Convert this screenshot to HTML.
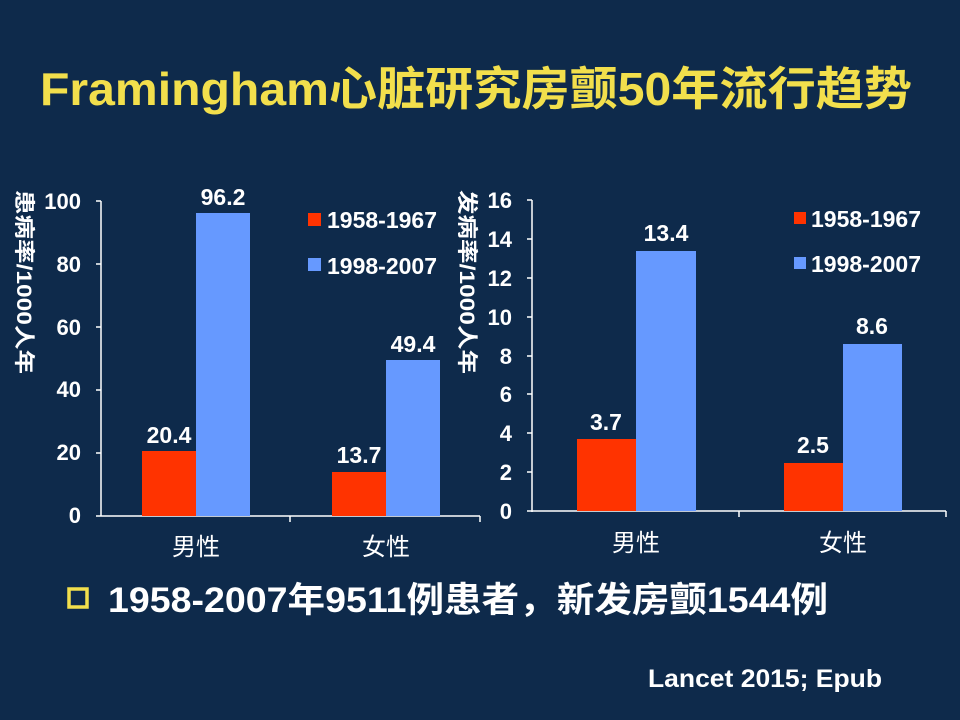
<!DOCTYPE html>
<html><head><meta charset="utf-8"><style>
body{margin:0;width:960px;height:720px;background:#0e2a4b;overflow:hidden}
svg{display:block}
</style></head><body>
<svg width="960" height="720" xmlns="http://www.w3.org/2000/svg" font-family="'Liberation Sans','Noto Sans CJK SC',sans-serif">
<rect width="960" height="720" fill="#0e2a4b"/>
<text x="40" y="105" font-size="46" font-weight="bold" fill="#f2df4c" textLength="872" lengthAdjust="spacingAndGlyphs">Framingham心脏研究房颤50年流行趋势</text>

<!-- Left chart -->
<g fill="#fff" font-size="22" font-weight="bold" text-anchor="end">
<text x="81" y="209">100</text><text x="81" y="272">80</text><text x="81" y="335">60</text>
<text x="81" y="397">40</text><text x="81" y="460">20</text><text x="81" y="523">0</text>
</g>
<g stroke="#fff" stroke-width="1.5">
<line x1="101" y1="201" x2="101" y2="516"/>
<line x1="101" y1="516" x2="480" y2="516"/>
<line x1="96" y1="201" x2="101" y2="201"/><line x1="96" y1="264" x2="101" y2="264"/>
<line x1="96" y1="327" x2="101" y2="327"/><line x1="96" y1="390" x2="101" y2="390"/>
<line x1="96" y1="453" x2="101" y2="453"/><line x1="96" y1="516" x2="101" y2="516"/>
<line x1="290" y1="516" x2="290" y2="522"/><line x1="480" y1="516" x2="480" y2="522"/>
</g>
<rect x="142" y="451" width="54" height="65" fill="#ff3300"/>
<rect x="196" y="213" width="54" height="303" fill="#6699ff"/>
<rect x="332" y="472" width="54" height="44" fill="#ff3300"/>
<rect x="386" y="360" width="54" height="156" fill="#6699ff"/>
<g fill="#fff" font-size="23" font-weight="bold" text-anchor="middle">
<text x="169" y="443">20.4</text><text x="223" y="205">96.2</text>
<text x="359" y="463">13.7</text><text x="413" y="352">49.4</text>
</g>
<g fill="#fff" font-size="24" text-anchor="middle">
<text x="196" y="555">男性</text><text x="386" y="555">女性</text>
</g>
<rect x="308" y="213" width="13" height="13" fill="#ff3300"/>
<rect x="308" y="258" width="13" height="13" fill="#6699ff"/>
<g fill="#fff" font-size="23" font-weight="bold">
<text x="327" y="228">1958-1967</text><text x="327" y="274">1998-2007</text>
</g>
<text transform="translate(17,190) rotate(90)" fill="#fff" font-size="21" font-weight="bold" textLength="184" lengthAdjust="spacingAndGlyphs">患病率/1000人年</text>

<!-- Right chart -->
<g fill="#fff" font-size="22" font-weight="bold" text-anchor="end">
<text x="512" y="208">16</text><text x="512" y="247">14</text><text x="512" y="286">12</text>
<text x="512" y="325">10</text><text x="512" y="364">8</text><text x="512" y="402">6</text>
<text x="512" y="441">4</text><text x="512" y="480">2</text><text x="512" y="519">0</text>
</g>
<g stroke="#fff" stroke-width="1.5">
<line x1="532" y1="200" x2="532" y2="512"/>
<line x1="532" y1="511" x2="946" y2="511"/>
<line x1="527" y1="200" x2="532" y2="200"/><line x1="527" y1="239" x2="532" y2="239"/>
<line x1="527" y1="278" x2="532" y2="278"/><line x1="527" y1="317" x2="532" y2="317"/>
<line x1="527" y1="356" x2="532" y2="356"/><line x1="527" y1="394" x2="532" y2="394"/>
<line x1="527" y1="433" x2="532" y2="433"/><line x1="527" y1="472" x2="532" y2="472"/>
<line x1="527" y1="511" x2="532" y2="511"/>
<line x1="739" y1="511" x2="739" y2="517"/><line x1="946" y1="511" x2="946" y2="517"/>
</g>
<rect x="577" y="439" width="59" height="72" fill="#ff3300"/>
<rect x="636" y="251" width="60" height="260" fill="#6699ff"/>
<rect x="784" y="463" width="59" height="48" fill="#ff3300"/>
<rect x="843" y="344" width="59" height="167" fill="#6699ff"/>
<g fill="#fff" font-size="23" font-weight="bold" text-anchor="middle">
<text x="606" y="430">3.7</text><text x="666" y="241">13.4</text>
<text x="813" y="453">2.5</text><text x="872" y="334">8.6</text>
</g>
<g fill="#fff" font-size="24" text-anchor="middle">
<text x="636" y="551">男性</text><text x="843" y="551">女性</text>
</g>
<rect x="794" y="212" width="12" height="12" fill="#ff3300"/>
<rect x="794" y="257" width="12" height="12" fill="#6699ff"/>
<g fill="#fff" font-size="23" font-weight="bold">
<text x="811" y="227">1958-1967</text><text x="811" y="272">1998-2007</text>
</g>
<text transform="translate(460,190) rotate(90)" fill="#fff" font-size="21" font-weight="bold" textLength="184" lengthAdjust="spacingAndGlyphs">发病率/1000人年</text>

<!-- bottom -->
<rect x="69" y="589" width="18" height="18" fill="none" stroke="#f2df4c" stroke-width="3.5"/>
<text x="108" y="612" fill="#fff" font-size="35" font-weight="bold" textLength="720" lengthAdjust="spacingAndGlyphs">1958-2007年9511例患者，新发房颤1544例</text>
<text x="648" y="687" fill="#fff" font-size="25" font-weight="bold" textLength="234" lengthAdjust="spacingAndGlyphs">Lancet 2015; Epub</text>
</svg>
</body></html>
